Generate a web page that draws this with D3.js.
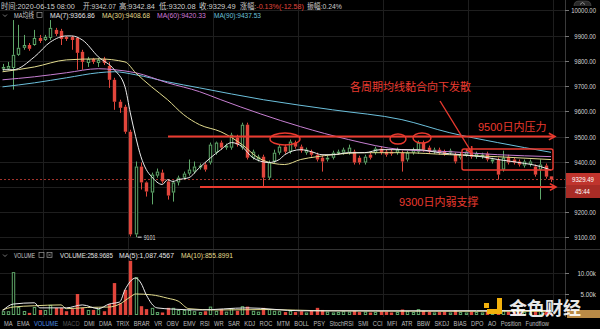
<!DOCTYPE html>
<html><head><meta charset="utf-8">
<script src="https://cdn.jsdelivr.net/npm/d3@7"></script>
<style>
html,body{margin:0;padding:0;background:#000;}
svg{display:block;}
text{font-family:"Liberation Sans","Noto Sans CJK SC",sans-serif;}
</style></head><body>
<svg id="chart" width="600" height="329"></svg>
<script>
// BTC hourly candles (USDT)
const opens = [9769,9769,9772,9824,9852,9863,9863,9891,9883,9891,
  9923,9919,9895,9895,9891,9836,9792,9808,9792,9808,
  9780,9725,9638,9618,9519,9112,9381,9318,9278,9345,
  9357,9322,9278,9318,9337,9353,9361,9377,9389,9397,
  9436,9476,9456,9456,9496,9456,9547,9416,9409,9420,
  9337,9401,9436,9460,9440,9476,9460,9436,9440,9428,
  9416,9409,9416,9436,9436,9436,9440,9416,9397,9428,
  9436,9452,9440,9440,9436,9436,9409,9436,9440,9476,
  9456,9440,9448,9440,9436,9428,9416,9428,9436,9420,
  9420,9432,9401,9409,9369,9420,9409,9401,9385,9389,
  9381,9369,9385,9342.07];
const highs = [9788,9796,9962,9943,9903,9871,9923,9903,9903,9962,
  9931,9927,9899,9899,9895,9844,9816,9812,9812,9816,
  9796,9733,9646,9626,9527,9401,9397,9322,9357,9373,
  9369,9329,9325,9345,9361,9409,9401,9393,9397,9476,
  9480,9484,9472,9515,9507,9555,9555,9448,9428,9428,
  9405,9448,9468,9468,9488,9484,9468,9456,9448,9436,
  9424,9424,9444,9448,9456,9468,9448,9424,9428,9436,
  9460,9460,9448,9448,9456,9444,9444,9456,9484,9484,
  9464,9456,9456,9448,9452,9436,9436,9448,9444,9440,
  9436,9440,9416,9416,9444,9428,9416,9409,9409,9409,
  9389,9409,9393,9342.84];
const lows = [9761,9765,9686,9820,9844,9840,9860,9871,9879,9883,
  9899,9863,9879,9844,9765,9765,9776,9788,9776,9784,
  9693,9606,9594,9511,9104,9101,9290,9262,9231,9337,
  9314,9250,9242,9306,9329,9345,9353,9369,9361,9389,
  9428,9448,9448,9448,9460,9448,9409,9409,9401,9302,
  9329,9393,9428,9432,9432,9452,9436,9428,9420,9401,
  9361,9401,9409,9428,9428,9428,9389,9389,9389,9409,
  9428,9428,9420,9424,9428,9361,9401,9428,9432,9440,
  9432,9432,9428,9424,9428,9393,9409,9420,9412,9412,
  9412,9401,9393,9329,9361,9389,9389,9381,9377,9381,
  9341,9250,9333,9320.08];
const closes = [9776,9780,9824,9852,9863,9848,9891,9879,9895,9931,
  9907,9887,9887,9883,9832,9796,9808,9796,9804,9792,
  9725,9638,9614,9519,9112,9381,9318,9282,9349,9361,
  9322,9266,9318,9337,9353,9369,9381,9385,9369,9468,
  9476,9456,9464,9507,9468,9547,9416,9440,9420,9337,
  9397,9436,9460,9440,9480,9460,9444,9448,9428,9409,
  9401,9416,9436,9440,9448,9456,9397,9397,9420,9416,
  9452,9436,9428,9432,9448,9401,9436,9448,9476,9448,
  9440,9448,9436,9432,9444,9401,9428,9440,9420,9432,
  9428,9409,9409,9349,9416,9397,9397,9389,9401,9401,
  9349,9389,9341,9329.49];
// volume per candle, thousands
const volumes = [0.9,0.9,10.2,1.9,0.95,0.5,1.9,1.2,1.2,2.4,
  1.7,1.7,0.9,1.4,5.0,1.7,1.2,1.2,1.4,0.9,
  2.6,7.6,2.8,6.0,12.9,9.0,2.1,1.4,1.7,0.7,
  0.6,1.7,1.7,1.2,1.2,1.2,0.9,0.7,0.9,2.0,
  1.0,1.4,0.8,1.6,1.0,2.1,2.0,1.0,0.8,1.7,
  1.4,1.0,0.9,0.7,1.0,0.7,0.9,0.6,1.0,1.7,
  1.2,0.8,0.6,0.7,0.9,0.8,1.0,0.7,0.8,0.6,
  0.7,0.9,0.8,0.6,0.7,1.3,0.9,0.7,1.4,1.0,
  0.8,0.6,0.7,0.8,0.6,1.1,0.7,0.6,0.8,0.7,
  0.6,0.9,0.6,1.5,1.2,0.8,0.7,0.6,0.7,0.6,
  1.0,1.3,0.9,0.26];

// moving-average curves: [candle index, value]
const ma7 = [[0,9765],[2,9765],[6,9816],[9,9875],[12,9899],[13,9899],[15,9883],[18,9816],[21,9765],[23,9697],[24,9594],[25,9500],[26,9420],[27,9369],[28,9341],[30,9310],[31,9329],[32,9322],[33,9329],[35,9337],[37,9377],[41,9448],[43,9476],[45,9460],[47,9416],[50,9397],[52,9409],[53,9428],[56,9448],[58,9440],[60,9428],[62,9428],[65,9436],[68,9436],[71,9448],[75,9448],[78,9448],[82,9436],[86,9428],[90,9420],[93,9409],[97,9397],[101,9381],[103,9366.86]];
const ma30 = [[0,9757],[6,9776],[12,9804],[18,9808],[23,9796],[25,9753],[28,9697],[31,9646],[34,9587],[37,9547],[41,9519],[45,9468],[48,9416],[51,9393],[53,9389],[56,9409],[59,9420],[62,9428],[68,9436],[75,9436],[84,9428],[93,9420],[103,9408.68]];
const ma60 = [[0,9725],[6,9737],[12,9753],[18,9769],[21,9765],[25,9753],[31,9713],[37,9678],[41,9646],[56,9539],[65,9488],[75,9448],[84,9440],[93,9428],[103,9420.33]];
const ma90 = [[0,9697],[6,9713],[12,9733],[18,9753],[21,9757],[25,9745],[31,9717],[37,9693],[49,9646],[62,9606],[75,9567],[84,9515],[93,9476],[103,9437.53]];
const volMa5 = [[0,1.0],[2,2.6],[6,2.9],[7,1.7],[12,1.7],[15,2.4],[18,1.5],[20,2.6],[22,3.1],[23,6.0],[25,8.8],[26,7.6],[27,4.8],[29,1.7],[32,1.4],[37,1.2],[46,1.7],[56,1.0],[75,1.0],[103,1.09]];
const volMa10 = [[0,1.2],[2,1.9],[6,2.2],[11,2.4],[12,1.5],[16,1.8],[20,1.9],[22,2.6],[24,4.3],[25,5.0],[28,4.8],[31,4.0],[33,3.3],[35,1.5],[40,1.2],[50,1.3],[60,1.0],[80,0.9],[103,0.86]];

const priceTicks = [10000,9900,9800,9700,9600,9500,9400,9300,9200,9100];
const volTicks = [10,5];
const timeGridIdx = [7.6,23.5,39.5,55.5,71.5,87.5,103.4];
const resistance = 9500, support = 9300, lowMark = 9101;
const tabs = ["MA","EMA","VOLUME","MACD","DMI","DMA","TRIX","BRAR","VR","OBV","EMV","RSI","WR","SAR","KDJ","ROC","MTM","BOLL","PSY","StochRSI","SMI","CCI","MFI","ATR","BBW","SKDJ","BIAS","DPO","AO","Position","Fundflow"];

const RED = "#e2463c", GREEN = "#5fa86a", ANNO = "#ea3a2f";
const svg = d3.select("#chart");
const n = opens.length;
const PR = 565;
const x = d3.scaleLinear().domain([0, n - 1]).range([2.5, 551]);
const y = d3.scaleLinear().domain([9060, 10041.5]).range([247.5, 0]);
const yv = d3.scaleLinear().domain([0, 16]).range([315, 247.8]);

// place a text and squeeze it horizontally to width w (the app uses a condensed UI face)
function put(g, x0, y0, str, w, opts = {}) {
  const t = g.append("text").attr("x", 0).attr("y", 0);
  if (opts.size) t.attr("font-size", opts.size);
  if (opts.fill) t.attr("fill", opts.fill);
  if (opts.family) t.attr("font-family", opts.family);
  if (opts.weight) t.attr("font-weight", opts.weight);
  if (typeof str === "string") t.text(str); else str(t);
  const nat = t.node().getComputedTextLength();
  const k = w ? Math.min(1, w / nat) : 1;
  const dx = opts.end ? -nat * k : 0;
  t.attr("transform", `translate(${x0 + dx},${y0}) scale(${k},1)`);
  return t;
}

svg.append("rect").attr("width", 600).attr("height", 329).attr("fill", "#000");

// grid
const grid = svg.append("g").attr("stroke", "#1e1e1e").attr("stroke-width", 1);
priceTicks.forEach(p => grid.append("line").attr("x1", 0).attr("x2", PR)
  .attr("y1", Math.round(y(p)) + 0.5).attr("y2", Math.round(y(p)) + 0.5));
volTicks.forEach(v => grid.append("line").attr("x1", 0).attr("x2", PR)
  .attr("y1", Math.round(yv(v)) + 0.5).attr("y2", Math.round(yv(v)) + 0.5));
timeGridIdx.forEach(i => grid.append("line").attr("y1", 0).attr("y2", 317)
  .attr("x1", Math.round(x(i)) + 0.5).attr("x2", Math.round(x(i)) + 0.5));

// pane separators and axis line
svg.append("line").attr("x1", 0).attr("x2", 600).attr("y1", 249.5).attr("y2", 249.5).attr("stroke", "#333");
svg.append("line").attr("x1", PR + 0.5).attr("x2", PR + 0.5).attr("y1", 0).attr("y2", 317).attr("stroke", "#3a3a3a");

svg.append("clipPath").attr("id", "mainClip").append("rect").attr("width", PR).attr("height", 249);
const main = svg.append("g").attr("clip-path", "url(#mainClip)");

// last price dashed line
main.append("line").attr("x1", 0).attr("x2", PR)
  .attr("y1", y(closes[n - 1])).attr("y2", y(closes[n - 1]))
  .attr("stroke", "#a8352e").attr("stroke-dasharray", "2,2").attr("stroke-width", 1);

// candles
const bw = 3.4;
const idx = d3.range(n);
const cg = main.append("g");
idx.forEach(i => {
  const up = closes[i] >= opens[i];
  const col = up ? GREEN : RED;
  const cx = Math.round(x(i)) + 0.5;
  const yt = y(Math.max(opens[i], closes[i]));
  const yb = y(Math.min(opens[i], closes[i]));
  const bodyH = Math.max(1, yb - yt);
  cg.append("line").attr("x1", cx).attr("x2", cx)
    .attr("y1", y(highs[i])).attr("y2", yt).attr("stroke", col);
  cg.append("line").attr("x1", cx).attr("x2", cx)
    .attr("y1", yb).attr("y2", y(lows[i])).attr("stroke", col);
  if (up) {
    cg.append("rect").attr("x", cx - bw / 2 + 0.5).attr("y", yt + 0.5)
      .attr("width", bw - 1).attr("height", Math.max(0.5, bodyH - 1))
      .attr("fill", "#000").attr("stroke", col).attr("stroke-width", 1);
  } else {
    cg.append("rect").attr("x", cx - bw / 2).attr("y", yt)
      .attr("width", bw).attr("height", bodyH).attr("fill", col);
  }
});

// moving averages
const maLine = d3.line().x(d => x(d[0])).y(d => y(d[1])).curve(d3.curveMonotoneX);
[[ma90, "#6cc0dc"], [ma60, "#c77fd2"], [ma30, "#e3dc8e"], [ma7, "#ececec"]].forEach(([pts, c]) =>
  main.append("path").attr("d", maLine(pts)).attr("fill", "none").attr("stroke", c).attr("stroke-width", 1));

// lowest price marker
const li = lows.indexOf(d3.min(lows));
main.append("line").attr("x1", x(li) + 2).attr("x2", x(li) + 6).attr("y1", y(lowMark)).attr("y2", y(lowMark)).attr("stroke", "#ddd");
put(main, x(li) + 8, y(lowMark) + 2.5, String(lowMark), 12, { size: 7, fill: "#ddd" });

// annotations
const ann = svg.append("g").attr("stroke", ANNO).attr("fill", "none").attr("stroke-width", 2);
function arrowHead(g, tx, ty, ang) {
  const L = 7, a = 0.5;
  const p1 = [tx - L * Math.cos(ang - a), ty - L * Math.sin(ang - a)];
  const p2 = [tx - L * Math.cos(ang + a), ty - L * Math.sin(ang + a)];
  g.append("path").attr("d", `M${p1}L${tx},${ty}L${p2}`).attr("stroke-width", 1.6);
}
ann.append("line").attr("x1", 168).attr("x2", 554).attr("y1", y(resistance)).attr("y2", y(resistance));
arrowHead(ann, 555, y(resistance), 0);
ann.append("line").attr("x1", 200).attr("x2", 555).attr("y1", y(support)).attr("y2", y(support));
arrowHead(ann, 556, y(support), 0);
ann.append("ellipse").attr("cx", 285).attr("cy", 139).attr("rx", 15).attr("ry", 6).attr("stroke-width", 1.4);
ann.append("ellipse").attr("cx", 398).attr("cy", 139).attr("rx", 8).attr("ry", 5).attr("stroke-width", 1.4);
ann.append("ellipse").attr("cx", 422).attr("cy", 138).attr("rx", 9).attr("ry", 5).attr("stroke-width", 1.4);
ann.append("rect").attr("x", 462).attr("y", 149).attr("width", 91).attr("height", 21).attr("rx", 2).attr("stroke-width", 1.4);
ann.append("line").attr("x1", 440).attr("y1", 101).attr("x2", 472).attr("y2", 153).attr("stroke-width", 1.4);
arrowHead(ann, 472, 153, Math.atan2(52, 32));

const at = svg.append("g").attr("fill", ANNO).attr("font-size", 11).attr("font-family", "Noto Sans CJK SC");
at.append("text").attr("x", 350).attr("y", 91).text("各周期均线黏合向下发散");
at.append("text").attr("x", 478).attr("y", 131).text("9500日内压力");
at.append("text").attr("x", 399).attr("y", 206).text("9300日内弱支撑");

// price axis
const axG = svg.append("g").attr("font-size", 7.5).attr("fill", "#d6d6d6");
const boxTop = 173, boxBot = 198;
priceTicks.forEach(p => {
  const yy = Math.round(y(p)) + 0.5;
  axG.append("line").attr("x1", PR).attr("x2", PR + 4).attr("y1", yy).attr("y2", yy).attr("stroke", "#777");
  if (yy > boxTop - 4 && yy < boxBot + 4) return; // hidden under the last-price tag
  const s = p.toFixed(2);
  put(axG, 596, yy + 2.6, s, s.length * 3.1, { end: true });
});
axG.append("rect").attr("x", 566).attr("y", boxTop).attr("width", 34).attr("height", 12).attr("fill", "#c0342d");
axG.append("rect").attr("x", 566).attr("y", boxTop + 12).attr("width", 34).attr("height", boxBot - boxTop - 12).attr("fill", "#a82c26");
put(axG, 572, 182, closes[n - 1].toFixed(2), 22, { fill: "#fff" });
put(axG, 575, 194, "45:44", 15, { fill: "#fff" });
volTicks.forEach(v => {
  const yy = Math.round(yv(v)) + 0.5;
  axG.append("line").attr("x1", PR).attr("x2", PR + 4).attr("y1", yy).attr("y2", yy).attr("stroke", "#777");
  const s = v.toFixed(2) + "k";
  put(axG, 596, yy + 2.6, s, s.length * 3.1, { end: true });
});
axG.append("rect").attr("x", 567).attr("y", 310).attr("width", 33).attr("height", 8).attr("fill", "#b98a46");
axG.append("path").attr("d", "M574,6 Q574,1 579,1 L586,1 Q591,1 591,6").attr("fill", "#2a2a2a").attr("stroke", "#555").attr("stroke-width", 0.6);
axG.append("path").attr("d", "M580,4.5 L582.5,2.5 L585,4.5").attr("fill", "none").attr("stroke", "#bbb").attr("stroke-width", 0.7);

// volume bars
svg.append("clipPath").attr("id", "volClip").append("rect").attr("y", 250).attr("width", PR).attr("height", 67);
const vg = svg.append("g").attr("clip-path", "url(#volClip)");
idx.forEach(i => {
  const up = closes[i] >= opens[i];
  const cx = Math.round(x(i)) + 0.5;
  const top = yv(volumes[i]), h = Math.max(1, yv(0) - top);
  if (up) vg.append("rect").attr("x", cx - bw / 2 + 0.5).attr("y", top + 0.5).attr("width", bw - 1)
    .attr("height", Math.max(0.5, h - 1)).attr("fill", "#000").attr("stroke", GREEN);
  else vg.append("rect").attr("x", cx - bw / 2).attr("y", top).attr("width", bw).attr("height", h).attr("fill", RED);
});
const vLine = d3.line().x(d => x(d[0])).y(d => yv(d[1])).curve(d3.curveMonotoneX);
vg.append("path").attr("d", vLine(volMa10)).attr("fill", "none").attr("stroke", "#e3dc8e").attr("stroke-width", 1);
vg.append("path").attr("d", vLine(volMa5)).attr("fill", "none").attr("stroke", "#ececec").attr("stroke-width", 1);

// header rows
const hd = svg.append("g").attr("font-size", 7.5).attr("fill", "#cfcfcf");
[[1, "时间:2020-06-15 08:00", 74], [83, "开:9342.07", 33], [119, "高:9342.84", 36], [159, "低:9320.08", 37], [199, "收:9329.49", 37]]
  .forEach(([xx, t, w]) => put(hd, xx, 8.5, t, w));
put(hd, 240, 8.5, t => {
  t.append("tspan").text("涨幅:");
  t.append("tspan").attr("fill", "#e0463c").text("-0.13%(-12.58)");
}, 64);
put(hd, 307, 8.5, "振幅:0.24%", 35);

hd.append("path").attr("d", "M3,14.5 L5,16.5 L7,14.5").attr("fill", "none").attr("stroke", "#aaa").attr("stroke-width", 0.7);
put(hd, 14, 17.5, "MA均线", 20);
hd.append("rect").attr("x", 37).attr("y", 12.5).attr("width", 5).attr("height", 5).attr("fill", "none").attr("stroke", "#999").attr("stroke-width", 0.7);
[[50, "MA(7):9366.86", "#e6e6e6", 45], [102, "MA(30):9408.68", "#e3dc8e", 48], [157, "MA(60):9420.33", "#d07ad8", 49], [214, "MA(90):9437.53", "#6cc0dc", 47]]
  .forEach(([xx, t, c, w]) => put(hd, xx, 17.5, t, w, { fill: c }));

hd.append("path").attr("d", "M3,254.5 L5,256.5 L7,254.5").attr("fill", "none").attr("stroke", "#aaa").attr("stroke-width", 0.7);
put(hd, 14, 257.5, "VOLUME", 21);
hd.append("rect").attr("x", 39).attr("y", 252.5).attr("width", 5).attr("height", 5).attr("fill", "none").attr("stroke", "#999").attr("stroke-width", 0.7);
hd.append("rect").attr("x", 47).attr("y", 252.5).attr("width", 5).attr("height", 5).attr("fill", "none").attr("stroke", "#999").attr("stroke-width", 0.7);
hd.append("path").attr("d", "M48,253.5L51,256.5M51,253.5L48,256.5").attr("stroke", "#999").attr("stroke-width", 0.6);
[[60, "VOLUME:258.9685", "#e6e6e6", 53], [119, "MA(5):1,087.4567", "#e6e6e6", 55], [181, "MA(10):855.8991", "#e3dc8e", 52]]
  .forEach(([xx, t, c, w]) => put(hd, xx, 257.5, t, w, { fill: c }));

// indicator tab bar
const tb = svg.append("g").attr("font-size", 8);
const tabColor = t => t === "VOLUME" ? "#4d8fe6" : t === "MACD" ? "#555" : "#bdbdbd";
const natW = tabs.map(t => {
  const probe = tb.append("text").text(t);
  const w = probe.node().getComputedTextLength();
  probe.remove();
  return w * 0.72;
});
const gap = (549 - 4 - d3.sum(natW)) / (tabs.length - 1);
let cx0 = 4;
tabs.forEach((t, i) => { put(tb, cx0, 325.5, t, natW[i], { fill: tabColor(t) }); cx0 += natW[i] + gap; });

// watermark
const wm = svg.append("g");
wm.append("rect").attr("x", 484).attr("y", 303).attr("width", 5).attr("height", 5).attr("fill", "#f3b10d");
wm.append("rect").attr("x", 497).attr("y", 298).attr("width", 5).attr("height", 16).attr("fill", "#f3b10d");
wm.append("rect").attr("x", 487).attr("y", 309).attr("width", 15).attr("height", 5).attr("fill", "#f3b10d");
put(wm, 509, 315, "金色财经", 78, { size: 18, weight: 700, family: "Noto Sans CJK SC", fill: "#fff" }).attr("fill-opacity", 0.92);
</script>
</body></html>
